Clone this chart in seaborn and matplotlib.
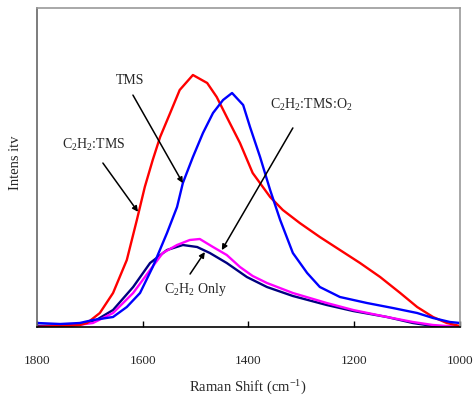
import matplotlib
matplotlib.use("Agg")
import matplotlib.pyplot as plt
import seaborn as sns
import pandas as pd

# Raman shift (cm^-1) and intensity (arbitrary units)
red_x = [1800, 1756, 1719, 1705, 1681, 1656, 1630, 1611, 1596, 1581, 1567, 1548, 1530,
         1505, 1478, 1460, 1441, 1416, 1392, 1359, 1335, 1303, 1265, 1227, 1189, 1151,
         1113, 1081, 1051, 1025, 1000]
red_y = [0, 1, 2, 4, 14, 34, 67, 107, 140, 167, 190, 214, 237,
         252, 244, 230, 210, 184, 154, 130, 117, 104, 90, 77, 64, 50,
         34, 20, 10, 4, 1]

blue_x = [1800, 1756, 1719, 1694, 1656, 1630, 1605, 1581, 1554, 1535, 1524, 1505, 1486,
          1467, 1448, 1431, 1410, 1397, 1378, 1359, 1340, 1316, 1289, 1265, 1227, 1176,
          1127, 1081, 1051, 1019, 1000]
blue_y = [4, 3, 4, 7, 10, 20, 34, 60, 94, 120, 144, 170, 194,
          214, 227, 234, 222, 200, 170, 137, 107, 74, 54, 40, 30, 24,
          19, 14, 9, 5, 4]

mag_x = [1800, 1738, 1694, 1656, 1618, 1586, 1562, 1535, 1511, 1492, 1467, 1441, 1416,
         1392, 1365, 1316, 1252, 1202, 1138, 1089, 1051, 1000]
mag_y = [0, 1, 4, 14, 34, 57, 74, 82, 87, 88, 80, 72, 60,
         51, 44, 34, 24, 17, 10, 5, 2, 0]

navy_x = [1800, 1738, 1694, 1656, 1618, 1586, 1554, 1524, 1497, 1473, 1441, 1403, 1365,
          1316, 1252, 1202, 1138, 1089, 1051, 1000]
navy_y = [1, 2, 5, 17, 40, 64, 77, 82, 80, 74, 64, 50, 40,
          31, 22, 16, 10, 4, 1, 0]

series_names = ["C2H2 Only", "C2H2:TMS:O2", "C2H2:TMS", "TMS"]
colors = {"C2H2 Only": "#000080", "C2H2:TMS:O2": "#ff00ff",
          "C2H2:TMS": "#ff0000", "TMS": "#0000ff"}

frames = []
for name, xs, ys in zip(series_names, [navy_x, mag_x, red_x, blue_x],
                        [navy_y, mag_y, red_y, blue_y]):
    frames.append(pd.DataFrame({"shift": xs, "intensity": ys, "series": name}))
df = pd.concat(frames, ignore_index=True)

sns.set_style("white")
plt.rcParams["font.family"] = ["Liberation Serif", "DejaVu Serif"]
plt.rcParams["mathtext.fontset"] = "custom"
plt.rcParams["mathtext.rm"] = "Liberation Serif"
plt.rcParams["mathtext.it"] = "Liberation Serif"

fig = plt.figure(figsize=(4.73, 4.0), dpi=100)
ax = fig.add_axes([0.078, 0.1825, 0.8945, 0.7975])

sns.lineplot(data=df, x="shift", y="intensity", hue="series", hue_order=series_names,
             palette=colors, estimator=None, sort=False, linewidth=1.7, legend=False, ax=ax)

ax.set_xlim(1800, 1000)
ax.set_ylim(0, 319)
ax.set_xticks([1800, 1600, 1400, 1200, 1000])
ax.set_xticklabels(["1800", "1600", "1400", "1200", "1000"], fontsize=9.5)
ax.set_yticks([])
ax.tick_params(axis="x", direction="in", length=4, width=1, pad=20, bottom=True, color="black")
ax.set_xlabel("")
ax.set_ylabel("")

for side in ["top", "right"]:
    ax.spines[side].set_color("#999999")
    ax.spines[side].set_linewidth(1.2)
ax.spines["left"].set_color("#666666")
ax.spines["left"].set_linewidth(1.2)
ax.spines["bottom"].set_color("black")
ax.spines["bottom"].set_linewidth(1.2)

fig.text(0.032, 0.5925, "Intens itv", rotation=90, ha="center", va="center", fontsize=10.5)
fig.text(0.524, 0.03, "Raman Shift (cm$^{-1}$)", ha="center", va="center", fontsize=10.5)

arrow = dict(arrowstyle="-|>", color="black", lw=1.1, mutation_scale=8, shrinkA=0, shrinkB=0)
labels = [
    ("TMS", (0.220, 0.774), (0.227, 0.727), (0.345, 0.451)),
    ("C$_2$H$_2$:TMS", (0.135, 0.571), (0.156, 0.514), (0.239, 0.361)),
    ("C$_2$H$_2$:TMS:O$_2$", (0.648, 0.696), (0.605, 0.624), (0.437, 0.241)),
    ("C$_2$H$_2$ Only", (0.374, 0.116), (0.362, 0.166), (0.397, 0.235)),
]
for text, tpos, a0, a1 in labels:
    ax.text(tpos[0], tpos[1], text, transform=ax.transAxes, ha="center", va="center", fontsize=10)
    ax.annotate("", xy=a1, xytext=a0, xycoords="axes fraction", textcoords="axes fraction",
                arrowprops=arrow)

fig.savefig("out.png", dpi=100)
